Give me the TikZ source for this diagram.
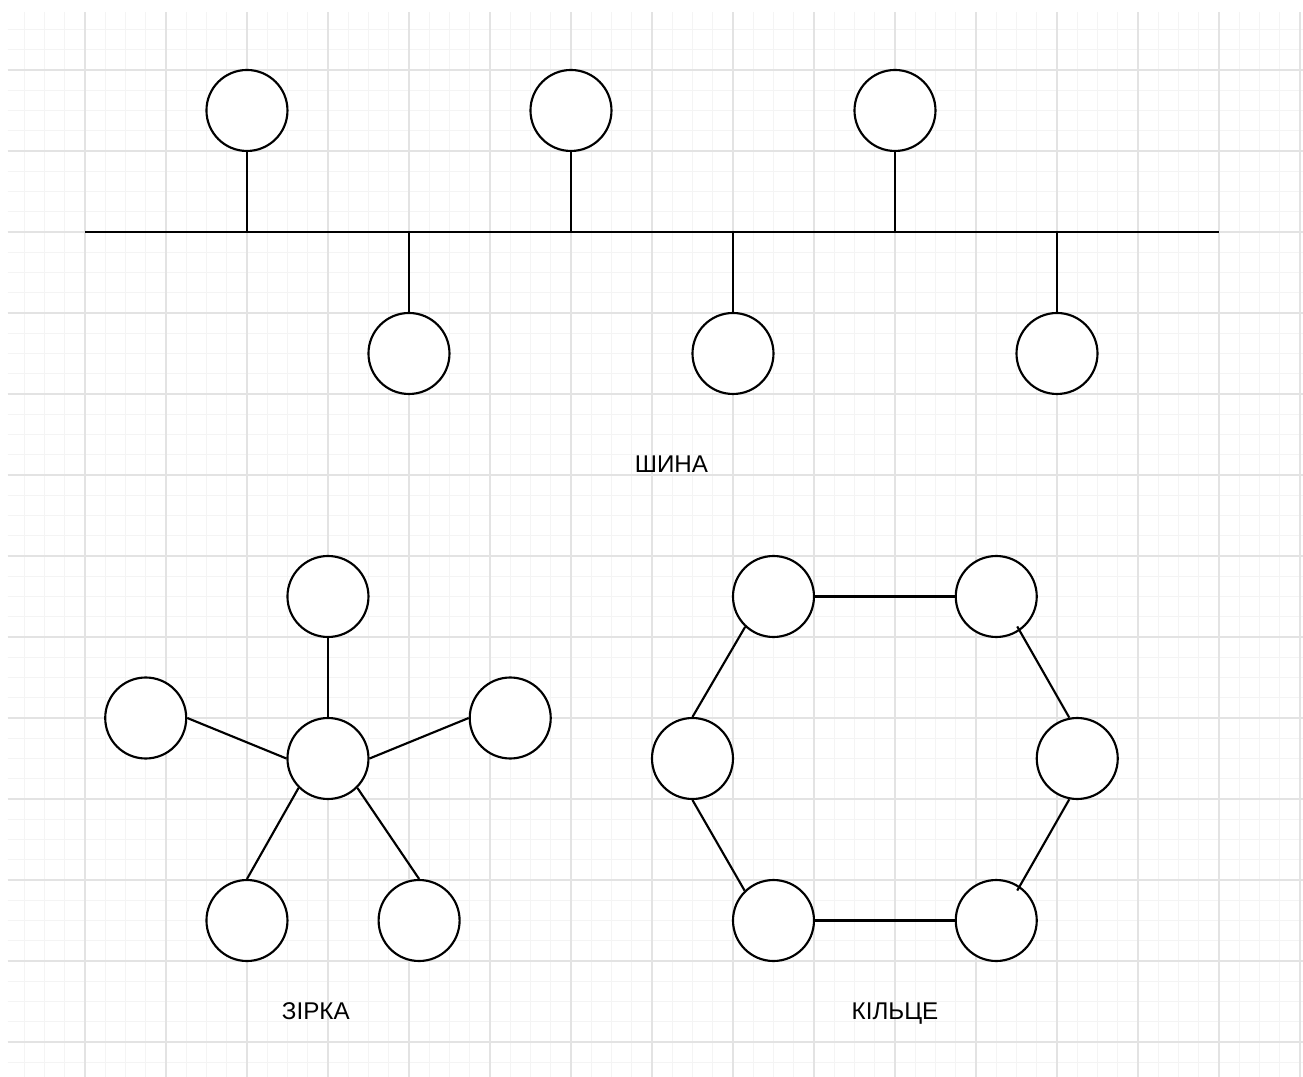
\documentclass[tikz,border=0pt]{standalone}
\usepackage{fontspec}
\setmainfont{Liberation Sans}
\usepackage{tikz}
\usetikzlibrary{calc}

\begin{document}
\begin{tikzpicture}[
    stn/.style={draw, circle, fill=white, minimum size=1cm,
                inner sep=0pt, line width=0.75pt},
    wire/.style={line width=0.75pt},
    lbl/.style={font=\fontsize{8.5}{10}\selectfont, anchor=base},
    minorgrid/.style={draw=gray!9, line width=0.4pt},
    majorgrid/.style={draw=gray!22, line width=0.4pt},
  ]

  \useasboundingbox (-1.049,-12.432) rectangle (15.037,0.864);
  \fill[white] (-1.049,-12.432) rectangle (15.037,0.864);

  % ============ Background grid ============
  \draw[minorgrid, step=0.25] (-0.951,-12.432) grid (15.037,0.716);
  \draw[majorgrid, step=1] (-0.951,-12.432) grid (15.037,0.716);

  % ============ Bus ============
  \coordinate (busl) at (0,-2);
  \coordinate (busr) at (14,-2);
  \draw[wire] (busl) -- (busr);

  \node[stn] (t1) at (2,-0.5) {};
  \node[stn] (t2) at (6,-0.5) {};
  \node[stn] (t3) at (10,-0.5) {};
  \node[stn] (b1) at (4,-3.5) {};
  \node[stn] (b2) at (8,-3.5) {};
  \node[stn] (b3) at (12,-3.5) {};

  \draw[wire] (t1.south) -- (t1 |- busl);
  \draw[wire] (t2.south) -- (t2 |- busl);
  \draw[wire] (t3.south) -- (t3 |- busl);
  \draw[wire] (b1.north) -- (b1 |- busl);
  \draw[wire] (b2.north) -- (b2 |- busl);
  \draw[wire] (b3.north) -- (b3 |- busl);

  \node[lbl] (buslbl) at (7.24,-4.975) {ШИНА};

  % ============ Star ============
  \node[stn] (hub) at (3,-8.5) {};
  \node[stn] (s1) at (3,-6.5) {};
  \node[stn] (s2) at (0.75,-8) {};
  \node[stn] (s3) at (5.25,-8) {};
  \node[stn] (s4) at (2,-10.5) {};
  \node[stn] (s5) at (4.125,-10.5) {};

  \draw[wire] (s1.south) -- (hub.north);
  \draw[wire] (s2.east) -- (hub.west);
  \draw[wire] (s3.west) -- (hub.east);
  \draw[wire] (hub.-135) -- (s4.north);
  \draw[wire] (hub.-45) -- (s5.north);

  \node[lbl] (starlbl) at (2.85,-11.716) {ЗІРКА};

  % ============ Ring ============
  \node[stn] (r1) at (8.5,-6.5) {};
  \node[stn] (r2) at (11.25,-6.5) {};
  \node[stn] (r3) at (12.25,-8.5) {};
  \node[stn] (r4) at (11.25,-10.5) {};
  \node[stn] (r5) at (8.5,-10.5) {};
  \node[stn] (r6) at (7.5,-8.5) {};

  \draw[wire] (r1.east) -- (r2.west);
  \draw[wire] ($(r2)!0.88!(r2.-55)$) -- (r3.101);
  \draw[wire] (r3.-101) -- ($(r4)!0.88!(r4.55)$);
  \draw[wire] (r4.west) -- (r5.east);
  \draw[wire] (r5.134) -- (r6.south);
  \draw[wire] (r6.north) -- (r1.-133);

  \node[lbl] (ringlbl) at (10,-11.716) {КІЛЬЦЕ};

\end{tikzpicture}
\end{document}
